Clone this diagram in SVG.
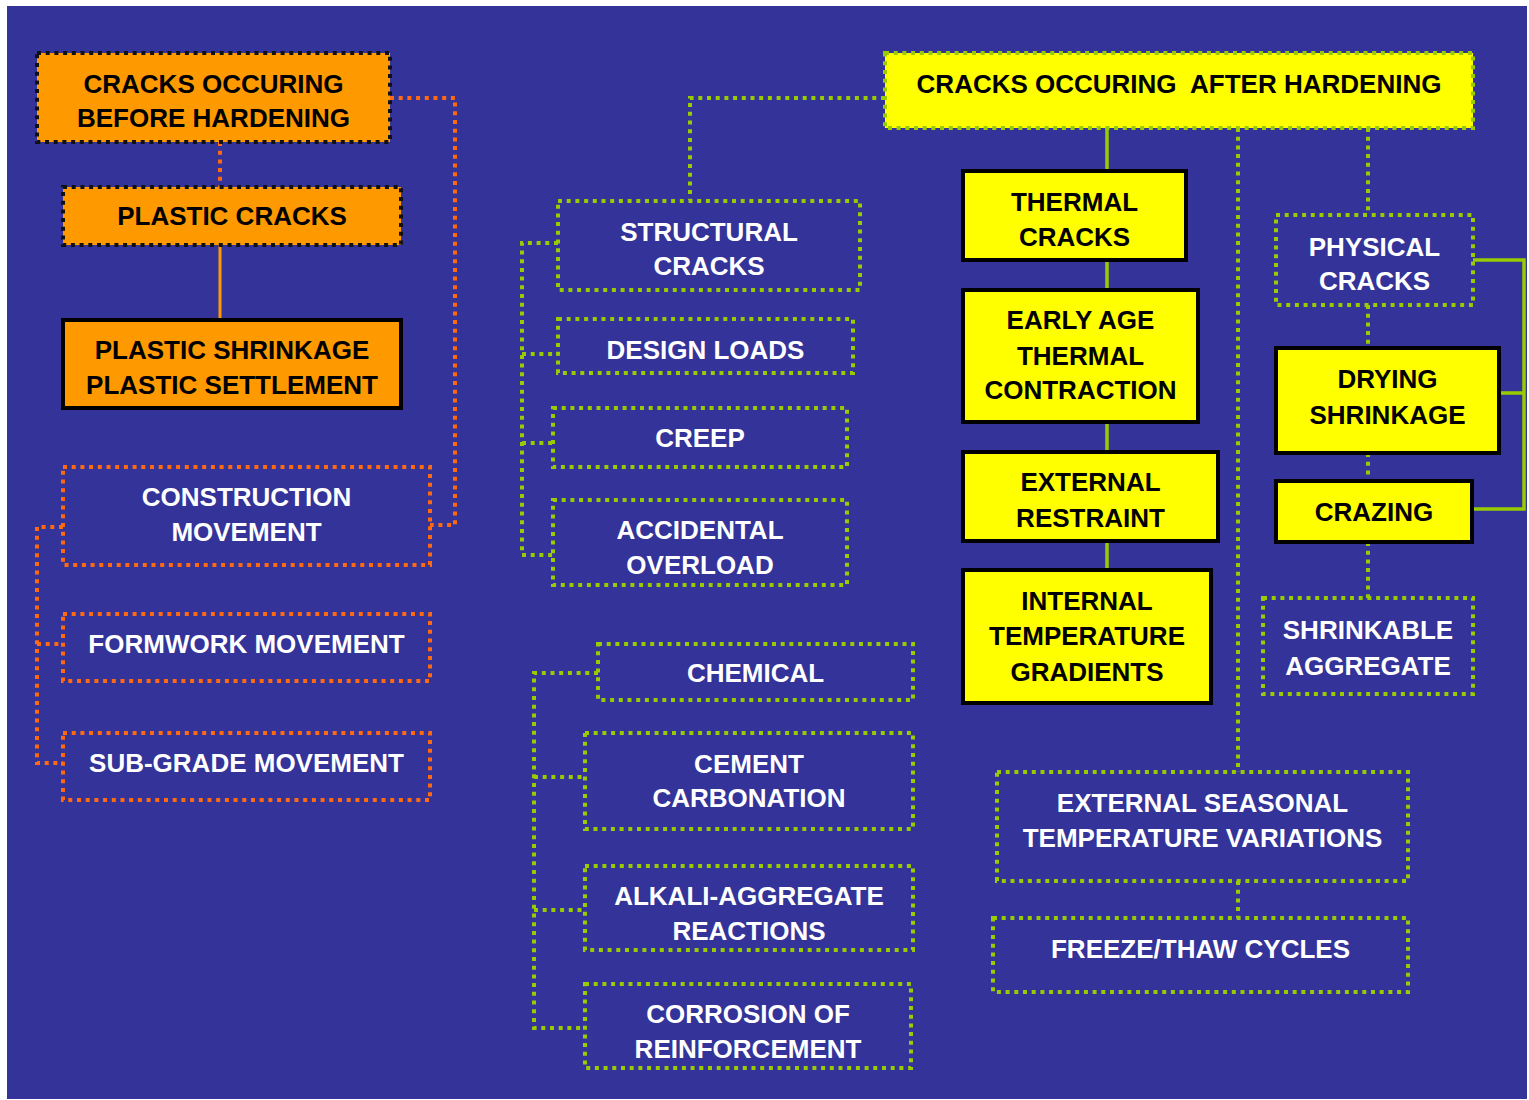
<svg xmlns="http://www.w3.org/2000/svg" width="1529" height="1100" viewBox="0 0 1529 1100">
<style>
text{font-family:"Liberation Sans",Arial,sans-serif;font-weight:bold;font-size:26px;text-anchor:middle}
.w{fill:#ffffff}
.k{fill:#000000}
.ob{fill:#ff9900;stroke:#111111;stroke-width:4;stroke-dasharray:4 4.7}
.os{fill:#ff9900;stroke:#000000;stroke-width:4}
.od{fill:none;stroke:#ff6a10;stroke-width:4;stroke-dasharray:4 4.7}
.gd{fill:none;stroke:#99cc00;stroke-width:4;stroke-dasharray:4 4.7}
.yb{fill:#ffff00;stroke:#99cc00;stroke-width:4;stroke-dasharray:4 4.7}
.ys{fill:#ffff00;stroke:#000000;stroke-width:4}
.co{fill:none;stroke:#ff6a10;stroke-width:4;stroke-dasharray:4 4.7}
.cos{fill:none;stroke:#ff9900;stroke-width:3}
.cg{fill:none;stroke:#99cc00;stroke-width:4;stroke-dasharray:4 4.7}
.cgs{fill:none;stroke:#99cc00;stroke-width:3.5}
</style>
<rect x="0" y="0" width="1529" height="1100" fill="#ffffff"/>
<rect x="7" y="6" width="1520" height="1093" fill="#333399"/>
<g id="connectors">
<path class="co" d="M220 142 V187"/>
<path class="cos" d="M220 245 V320"/>
<path class="co" d="M390 98 H455 V525 H430"/>
<path class="co" d="M63 527 H37 V763 H63 M37 644 H63"/>
<path class="cg" d="M885 98 H690 V200"/>
<path class="cg" d="M558 243 H522 V555 H553 M522 354 H558 M522 443 H553"/>
<path class="cg" d="M598 673 H534 V1028 H585 M534 777 H585 M534 910 H585"/>
<path class="cgs" d="M1107 128 V570"/>
<path class="cg" d="M1238 128 V772 M1238 881 V918"/>
<path class="cg" d="M1368 128 V215 M1368 305 V348 M1368 453 V481 M1368 542 V598"/>
<path class="cgs" d="M1473 260 H1524 V509 H1472 M1499 393 H1524"/>
</g>
<g id="n-before"><rect class="ob" x="37" y="53" width="353" height="89"/><text class="k" x="213.5" y="93">CRACKS OCCURING</text><text class="k" x="213.5" y="127">BEFORE HARDENING</text></g>
<g id="n-plastic"><rect class="ob" x="63" y="187" width="338" height="58"/><text class="k" x="232" y="225">PLASTIC CRACKS</text></g>
<g id="n-shrink"><rect class="os" x="63" y="320" width="338" height="88"/><text class="k" x="232" y="359">PLASTIC SHRINKAGE</text><text class="k" x="232" y="394">PLASTIC SETTLEMENT</text></g>
<g id="n-construction"><rect class="od" x="63" y="467" width="367" height="98"/><text class="w" x="246.5" y="506">CONSTRUCTION</text><text class="w" x="246.5" y="541">MOVEMENT</text></g>
<g id="n-formwork"><rect class="od" x="63" y="614" width="367" height="67"/><text class="w" x="246.5" y="653">FORMWORK MOVEMENT</text></g>
<g id="n-subgrade"><rect class="od" x="63" y="733" width="367" height="67"/><text class="w" x="246.5" y="772">SUB-GRADE MOVEMENT</text></g>
<g id="n-structural"><rect class="gd" x="558" y="201" width="302" height="89"/><text class="w" x="709" y="241">STRUCTURAL</text><text class="w" x="709" y="275">CRACKS</text></g>
<g id="n-design"><rect class="gd" x="558" y="319" width="295" height="54"/><text class="w" x="705.5" y="359">DESIGN LOADS</text></g>
<g id="n-creep"><rect class="gd" x="553" y="408" width="294" height="59"/><text class="w" x="700" y="447">CREEP</text></g>
<g id="n-accidental"><rect class="gd" x="553" y="500" width="294" height="85"/><text class="w" x="700" y="539">ACCIDENTAL</text><text class="w" x="700" y="574">OVERLOAD</text></g>
<g id="n-chemical"><rect class="gd" x="598" y="644" width="315" height="56"/><text class="w" x="755.5" y="682">CHEMICAL</text></g>
<g id="n-carbonation"><rect class="gd" x="585" y="733" width="328" height="96"/><text class="w" x="749" y="773">CEMENT</text><text class="w" x="749" y="807">CARBONATION</text></g>
<g id="n-alkali"><rect class="gd" x="585" y="866" width="328" height="84"/><text class="w" x="749" y="905">ALKALI-AGGREGATE</text><text class="w" x="749" y="940">REACTIONS</text></g>
<g id="n-corrosion"><rect class="gd" x="585" y="984" width="326" height="84"/><text class="w" x="748" y="1023">CORROSION OF</text><text class="w" x="748" y="1058">REINFORCEMENT</text></g>
<g id="n-after"><rect class="yb" x="885" y="53" width="588" height="75"/><text class="k" x="1179" y="93" xml:space="preserve">CRACKS OCCURING  AFTER HARDENING</text></g>
<g id="n-thermal"><rect class="ys" x="963" y="171" width="223" height="89"/><text class="k" x="1074.5" y="211">THERMAL</text><text class="k" x="1074.5" y="246">CRACKS</text></g>
<g id="n-early"><rect class="ys" x="963" y="290" width="235" height="132"/><text class="k" x="1080.5" y="329">EARLY AGE</text><text class="k" x="1080.5" y="365">THERMAL</text><text class="k" x="1080.5" y="399">CONTRACTION</text></g>
<g id="n-external"><rect class="ys" x="963" y="452" width="255" height="89"/><text class="k" x="1090.5" y="491">EXTERNAL</text><text class="k" x="1090.5" y="527">RESTRAINT</text></g>
<g id="n-internal"><rect class="ys" x="963" y="570" width="248" height="133"/><text class="k" x="1087" y="610">INTERNAL</text><text class="k" x="1087" y="645">TEMPERATURE</text><text class="k" x="1087" y="681">GRADIENTS</text></g>
<g id="n-physical"><rect class="gd" x="1276" y="215" width="197" height="90"/><text class="w" x="1374.5" y="256">PHYSICAL</text><text class="w" x="1374.5" y="290">CRACKS</text></g>
<g id="n-drying"><rect class="ys" x="1276" y="348" width="223" height="105"/><text class="k" x="1387.5" y="388">DRYING</text><text class="k" x="1387.5" y="424">SHRINKAGE</text></g>
<g id="n-crazing"><rect class="ys" x="1276" y="481" width="196" height="61"/><text class="k" x="1374" y="521">CRAZING</text></g>
<g id="n-shrinkable"><rect class="gd" x="1263" y="598" width="210" height="96"/><text class="w" x="1368" y="639">SHRINKABLE</text><text class="w" x="1368" y="675">AGGREGATE</text></g>
<g id="n-seasonal"><rect class="gd" x="997" y="772" width="411" height="109"/><text class="w" x="1202.5" y="812">EXTERNAL SEASONAL</text><text class="w" x="1202.5" y="847">TEMPERATURE VARIATIONS</text></g>
<g id="n-freeze"><rect class="gd" x="993" y="918" width="415" height="74"/><text class="w" x="1200.5" y="958">FREEZE/THAW CYCLES</text></g>
</svg>
